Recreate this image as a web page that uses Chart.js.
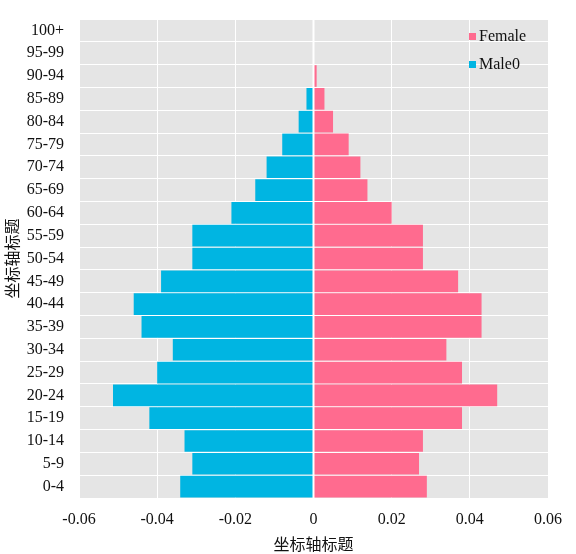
<!DOCTYPE html>
<html>
<head>
<meta charset="utf-8">
<script src="https://cdn.jsdelivr.net/npm/chart.js@4.4.0/dist/chart.umd.min.js"></script>
<style>
  html, body { margin: 0; padding: 0; background: #fff; }
  #wrap { width: 576px; height: 554px; }
</style>
</head>
<body>
<div id="wrap"><canvas id="myChart" width="576" height="554"></canvas></div>
<script>
// age groups, top to bottom as in the picture
var ageGroups = ['100+', '95-99', '90-94', '85-89', '80-84', '75-79', '70-74', '65-69', '60-64',
    '55-59', '50-54', '45-49', '40-44', '35-39', '30-34', '25-29', '20-24', '15-19', '10-14', '5-9', '0-4'];
var femaleValues = [0, 0, 0.0008, 0.0028, 0.005, 0.009, 0.012, 0.0138, 0.020,
    0.028, 0.028, 0.037, 0.043, 0.043, 0.034, 0.038, 0.047, 0.038, 0.028, 0.027, 0.029];
var maleValues = [0, 0, 0, -0.0018, -0.0038, -0.008, -0.012, -0.0149, -0.021,
    -0.031, -0.031, -0.039, -0.046, -0.044, -0.036, -0.040, -0.0513, -0.042, -0.033, -0.031, -0.0341];
var xTicks = [-0.06, -0.04, -0.02, 0, 0.02, 0.04, 0.06];

var serif = '"Liberation Serif", "Times New Roman", serif';
var cjk = '"Noto Sans CJK SC", sans-serif';

// grey plot background
var plotBg = {
    id: 'plotBg',
    beforeDraw: function (chart) {
        var a = chart.chartArea;
        var ctx = chart.ctx;
        ctx.save();
        ctx.fillStyle = '#e5e5e5';
        ctx.fillRect(a.left, a.top, a.right - a.left, a.bottom - a.top);
        ctx.restore();
    }
};

// white zero line over the bars + legend inside the plot
var overlay = {
    id: 'overlay',
    afterDatasetsDraw: function (chart) {
        var ctx = chart.ctx;
        var a = chart.chartArea;
        var x0 = chart.scales.x.getPixelForValue(0);
        ctx.save();
        ctx.strokeStyle = '#ffffff';
        ctx.lineWidth = 2;
        ctx.beginPath();
        ctx.moveTo(x0, a.top);
        ctx.lineTo(x0, a.bottom);
        ctx.stroke();

        ctx.font = '16px ' + serif;
        ctx.textBaseline = 'middle';
        chart.data.datasets.forEach(function (ds, i) {
            var y = a.top + 18 + i * 28;
            var x = a.right - 79;
            ctx.fillStyle = ds.backgroundColor;
            ctx.fillRect(x, y - 4, 7, 7);
            ctx.fillStyle = '#111';
            ctx.fillText(ds.label, x + 10, y);
        });
        ctx.restore();
    }
};

var ctx = document.getElementById('myChart').getContext('2d');
var myChart = new Chart(ctx, {
    type: 'bar',
    data: {
        labels: ageGroups,
        datasets: [{
            label: 'Female',
            data: femaleValues,
            backgroundColor: '#ff6b8f',
            barPercentage: 1,
            categoryPercentage: 0.95
        }, {
            label: 'Male0',
            data: maleValues,
            backgroundColor: '#00b5e2',
            barPercentage: 1,
            categoryPercentage: 0.95
        }]
    },
    options: {
        indexAxis: 'y',
        responsive: false,
        animation: false,
        devicePixelRatio: 1,
        layout: { padding: { left: 2, right: 28, top: 19, bottom: 0 } },
        plugins: {
            legend: { display: false },
            tooltip: { enabled: false }
        },
        scales: {
            x: {
                min: -0.06,
                max: 0.06,
                afterBuildTicks: function (scale) {
                    scale.ticks = xTicks.map(function (v) { return { value: v }; });
                },
                afterFit: function (scale) {
                    scale.height = 56;
                    scale.paddingLeft = 0;
                    scale.paddingRight = 0;
                },
                grid: { color: '#ffffff', lineWidth: 1, drawTicks: false },
                border: { display: false },
                ticks: {
                    color: '#111',
                    font: { family: serif, size: 16 },
                    padding: 12,
                    callback: function (v) { return String(Math.round(v * 100) / 100); }
                },
                title: {
                    display: true,
                    text: '坐标轴标题',
                    color: '#111',
                    font: { family: cjk, size: 16 },
                    padding: { top: 0, bottom: 0 }
                }
            },
            y: {
                stacked: true,
                afterFit: function (scale) {
                    scale.width = 77;
                    scale.paddingTop = 0;
                    scale.paddingBottom = 0;
                },
                grid: { color: '#ffffff', lineWidth: 1, drawTicks: false },
                border: { display: false },
                ticks: {
                    color: '#111',
                    font: { family: serif, size: 16 },
                    padding: 15,
                    autoSkip: false
                },
                title: {
                    display: true,
                    text: '坐标轴标题',
                    color: '#111',
                    font: { family: cjk, size: 16 },
                    padding: { top: 0, bottom: 0 }
                }
            }
        }
    },
    plugins: [plotBg, overlay]
});
</script>
</body>
</html>
